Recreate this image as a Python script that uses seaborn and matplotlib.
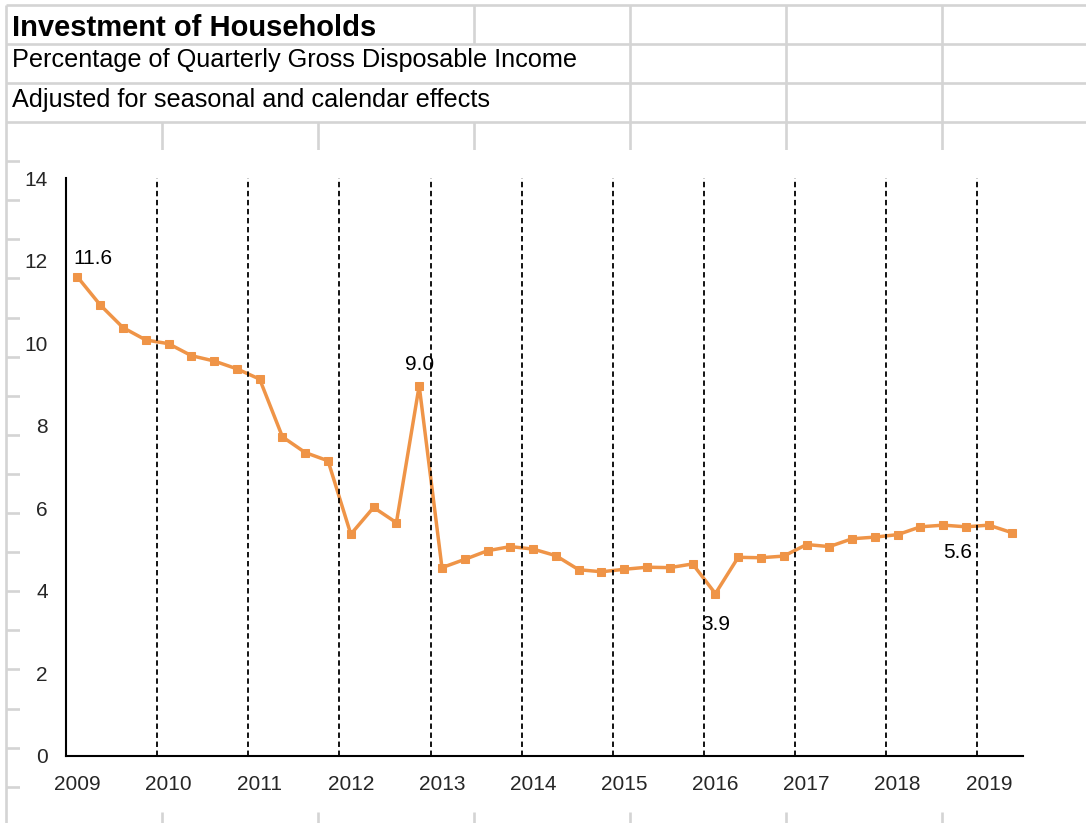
import numpy as np
import pandas as pd
import matplotlib
matplotlib.use("Agg")
import matplotlib.pyplot as plt
import seaborn as sns
from matplotlib.lines import Line2D
from matplotlib.patches import Rectangle

# ---------------- data ----------------
title = "Investment of Households"
subtitle = "Percentage of Quarterly Gross Disposable Income"
note = "Adjusted for seasonal and calendar effects"
year_labels = ["2009", "2010", "2011", "2012", "2013", "2014",
               "2015", "2016", "2017", "2018", "2019"]
values = [11.61, 10.93, 10.38, 10.08,
          9.99, 9.70, 9.57, 9.38,
          9.13, 7.73, 7.35, 7.15,
          5.37, 6.02, 5.65, 8.97,
          4.56, 4.76, 4.97, 5.07,
          5.01, 4.85, 4.51, 4.46,
          4.52, 4.57, 4.56, 4.65,
          3.93, 4.81, 4.80, 4.84,
          5.12, 5.07, 5.26, 5.30,
          5.36, 5.55, 5.59, 5.55,
          5.59, 5.41]
label_idx = [0, 15, 28, 40]
label_offsets = [(11, 13), (0.5, 15), (0, -22), (-22.5, -20)]

# ---------------- styling ----------------
sns.set_style("white")
plt.rcParams['font.family'] = ['Liberation Sans', 'DejaVu Sans']

W, H = 1086, 823
fig = plt.figure(figsize=(W / 100, H / 100), dpi=100)
fig.patch.set_facecolor("white")

def fx(x):
    return x / W

def fy(y):
    return 1 - y / H

gcol = "#d4d4d4"
glw = 1.9

def gline(x0, y0, x1, y1):
    fig.add_artist(Line2D([fx(x0), fx(x1)], [fy(y0), fy(y1)],
                          transform=fig.transFigure, color=gcol, lw=glw,
                          solid_capstyle="butt", zorder=0))

# spreadsheet grid background
row_y = [5, 43.5, 82.7, 122]
for yy in row_y:
    gline(6, yy, W, yy)
gline(6, 5, 6, H)
for xx in [474, 630, 786, 942]:
    gline(xx, 5, xx, 43.5)
for xx in [630, 786, 942]:
    gline(xx, 43.5, xx, 122)
for xx in [162, 318, 474, 630, 786, 942]:
    gline(xx, 122, xx, 150)
    gline(xx, 812, xx, H)
for k in range(1, 18):
    yy = 122 + 39.1 * k
    gline(6, yy, 20, yy)

# chart area (white)
fig.add_artist(Rectangle((fx(20), fy(812)), fx(W) - fx(20), fy(150) - fy(812),
                         transform=fig.transFigure, facecolor="white",
                         edgecolor="none", zorder=1))

# header texts
fig.text(fx(12), fy(35.5), title, fontsize=21, fontweight="bold",
         ha="left", va="baseline", color="black")
fig.text(fx(12), fy(66.5), subtitle, fontsize=18.2,
         ha="left", va="baseline", color="black")
fig.text(fx(12), fy(107), note, fontsize=18.2,
         ha="left", va="baseline", color="black")

# ---------------- axes ----------------
ax_l, ax_r, ax_b, ax_t = 66, 1023, 755.7, 178.3
ax = fig.add_axes([fx(ax_l), fy(ax_b), fx(ax_r) - fx(ax_l), fy(ax_t) - fy(ax_b)])
ax.set_zorder(2)
ax.patch.set_alpha(0)

n = len(values)
df = pd.DataFrame({"x": np.arange(n), "value": values})
orange = "#EF9447"
sns.lineplot(data=df, x="x", y="value", ax=ax, color=orange, lw=2.5,
             marker="s", markersize=6.2, markeredgecolor=orange,
             markerfacecolor=orange, zorder=3)

n_years = len(year_labels)
boundaries = np.arange(n_years) * 4 - 0.5
for b in boundaries[1:]:
    ax.plot([b, b], [0, 14], color="black", lw=1.3, ls=(0, (3, 2)), zorder=4)

for i, (dx, dy) in zip(label_idx, label_offsets):
    ax.annotate(f"{values[i]:.1f}", (i, values[i]), xytext=(dx, dy),
                textcoords="offset points", ha="center", va="center",
                fontsize=15, color="black", zorder=2)

ax.set_xlim(-0.5, 41.5)
ax.set_ylim(0, 14)
ax.set_yticks(np.arange(0, 15, 2))
ax.set_yticklabels([f"{v:d}" for v in range(0, 15, 2)])
ax.set_xticks(boundaries)
ax.set_xticklabels([])
ax.set_xticks(np.arange(n_years) * 4, minor=True)
ax.set_xticklabels(year_labels, minor=True)
ax.tick_params(axis="x", which="major", length=5, width=1.5, direction="out",
               color="black")
ax.tick_params(axis="x", which="minor", length=0, pad=14, labelsize=15)
ax.tick_params(axis="y", which="major", length=6, width=1.5, direction="out",
               color="black", pad=7, labelsize=15)
ax.set_xlabel("")
ax.set_ylabel("")
for s in ["top", "right"]:
    ax.spines[s].set_visible(False)
for s in ["left", "bottom"]:
    ax.spines[s].set_color("black")
    ax.spines[s].set_linewidth(1.5)
ax.grid(False)
if ax.get_legend():
    ax.get_legend().remove()

fig.savefig("out.png", dpi=100)
